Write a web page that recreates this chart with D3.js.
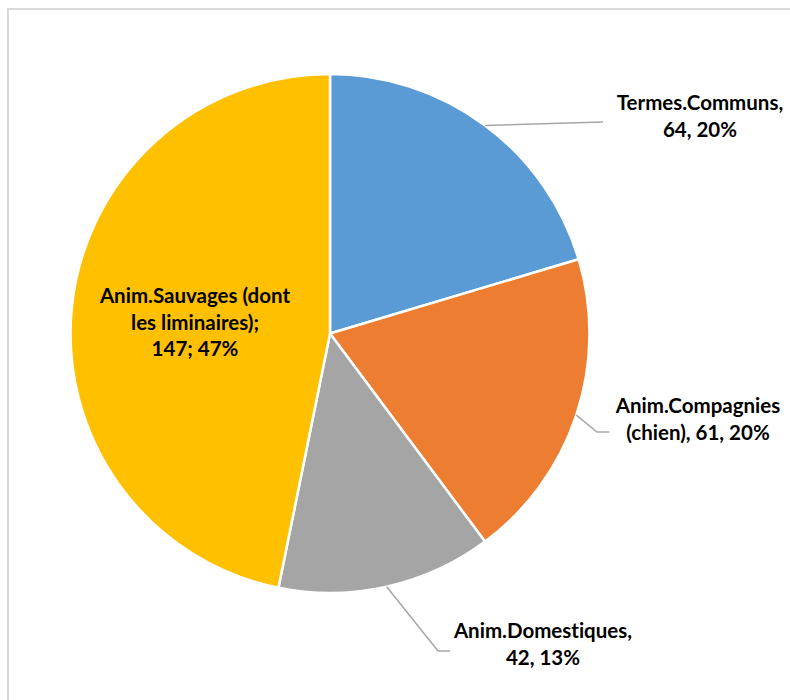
<!DOCTYPE html>
<html><head><meta charset="utf-8">
<script src="https://cdn.jsdelivr.net/npm/d3@7"></script>
<style>body{margin:0;background:#fff}svg{display:block}text{font-variant-ligatures:none;font-feature-settings:"liga" 0}</style>
</head><body>
<svg id="c" width="790" height="700"></svg>
<script>
const categories = ["Termes.Communs", "Anim.Compagnies (chien)", "Anim.Domestiques", "Anim.Sauvages (dont les liminaires)"];
const values = [64, 61, 42, 147];
const percentLabels = ["20%", "20%", "13%", "47%"];
const labelLines = [
  ["Termes.Communs,", "64, 20%"],
  ["Anim.Compagnies", "(chien), 61, 20%"],
  ["Anim.Domestiques,", "42, 13%"],
  ["Anim.Sauvages (dont", "les liminaires);", "147; 47%"]
];
const colors = ["#5B9BD5", "#ED7D31", "#A5A5A5", "#FFC000"];

const svg = d3.select("#c");
// chart border
svg.append("rect").attr("x", 8).attr("y", 9).attr("width", 800).attr("height", 720)
  .attr("fill", "none").attr("stroke", "#d9d9d9").attr("stroke-width", 2);

const cx = 330, cy = 333.5, R = 259.5;
const g = svg.append("g").attr("transform", `translate(${cx},${cy})`);
const pie = d3.pie().sort(null).value(d => d)(values);
const arc = d3.arc().innerRadius(0).outerRadius(R);
g.selectAll("path").data(pie).join("path")
  .attr("d", arc).attr("fill", (d, i) => colors[i])
  .attr("stroke", "#fff").attr("stroke-width", 2.5).attr("stroke-linejoin", "round");

// label layout (positions relative to svg)
const labelPos = [
  {x: 700, y: 110, pts: [[603, 122]]},
  {x: 698, y: 413, pts: [[597, 432], [609, 432]]},
  {x: 543, y: 638, pts: [[438, 651], [450, 651]]},
  {x: 195, y: 303, pts: null}
];
const lh = 26.5;
pie.forEach((d, i) => {
  const lp = labelPos[i];
  if (lp.pts) {
    const a = (d.startAngle + d.endAngle) / 2;
    const start = [cx + R * Math.sin(a), cy - R * Math.cos(a)];
    svg.append("path").attr("d", d3.line()([start, ...lp.pts]))
      .attr("fill", "none").attr("stroke", "#a6a6a6").attr("stroke-width", 1.5);
  }
  const t = svg.append("text").attr("text-anchor", "middle")
    .attr("font-family", "Lato, 'Open Sans', sans-serif").attr("font-weight", "bold")
    .attr("font-size", 20.5).attr("fill", "#000");
  labelLines[i].forEach((s, k) => {
    t.append("tspan").attr("x", lp.x).attr("y", lp.y + k * lh).text(s);
  });
});
</script>
</body></html>
